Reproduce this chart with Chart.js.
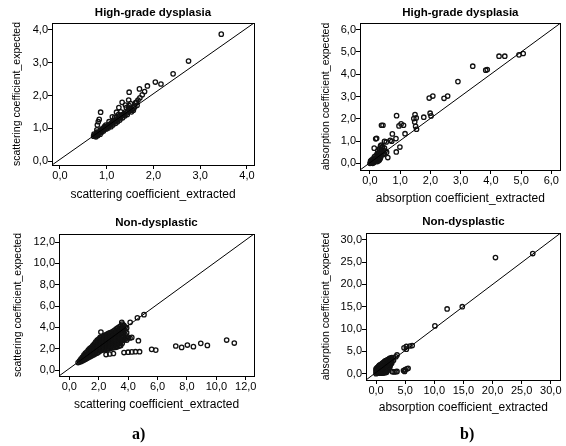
<!DOCTYPE html>
<html><head><meta charset="utf-8">
<script src="https://cdn.jsdelivr.net/npm/chart.js@4/dist/chart.umd.min.js"></script>
<style>
html,body{margin:0;padding:0;background:#fff}
body{width:566px;height:446px;position:relative;overflow:hidden}
canvas{position:absolute}
.lab{position:absolute;font-family:"Liberation Serif";font-size:16px;font-weight:bold;color:#000}
</style></head><body>
<canvas id="c1" width="283" height="220" style="left:0;top:0"></canvas>
<canvas id="c2" width="283" height="220" style="left:283px;top:0"></canvas>
<canvas id="c3" width="283" height="236" style="left:0;top:210px"></canvas>
<canvas id="c4" width="283" height="236" style="left:283px;top:210px"></canvas>
<div class="lab" style="left:132px;top:425px">a)</div>
<div class="lab" style="left:460px;top:425px">b)</div>
<script>
// ---- data (x = extracted, y = expected) ----
const hgdScatter = [
 [3.45,3.87],[2.75,3.05],[2.42,2.66],[2.16,2.35],[2.04,2.41],[1.87,2.29],[1.70,2.20],[1.48,2.10],[1.81,2.12],[1.76,2.02],
 [1.71,1.93],[1.67,1.86],[1.64,1.80],[1.47,1.86],[1.48,1.69],[1.33,1.79],[1.51,1.75],[1.40,1.71],[1.26,1.63],[1.42,1.63],
 [1.21,1.49],[1.12,1.35],[0.87,1.49],[0.84,1.27],[0.82,1.20],[0.80,1.10],[0.79,0.95],[1.05,1.20],[0.98,1.10],
 [0.72,0.76],[0.74,0.78],[0.75,0.80],[0.76,0.77],[0.78,0.82],[0.80,0.84],[0.82,0.83],[0.83,0.88],[0.85,0.87],[0.87,0.91],
 [0.88,0.95],[0.90,0.93],[0.92,0.97],[0.94,1.00],[0.95,0.96],[0.97,1.02],[1.00,1.04],[1.02,1.08],[1.04,1.06],[1.06,1.12],
 [1.08,1.10],[1.10,1.15],[1.12,1.17],[1.14,1.22],[1.16,1.19],[1.18,1.24],[1.20,1.28],[1.22,1.25],[1.25,1.30],[1.27,1.35],
 [1.29,1.32],[1.31,1.38],[1.33,1.42],[1.35,1.39],[1.38,1.45],[1.40,1.50],[1.43,1.47],[1.45,1.53],[1.48,1.56],[1.50,1.54],
 [1.52,1.60],[1.55,1.58],[1.58,1.62],[1.60,1.66],[1.62,1.78],[1.65,1.70],[1.30,1.50],[1.25,1.42],[1.17,1.33],[0.95,1.05],[0.90,0.98],
 [0.73,0.82],[0.77,0.74],[0.79,0.88],[0.81,0.78],[0.86,0.82],[0.89,0.88],[0.93,0.92],[0.99,0.98],[1.03,1.01],[1.09,1.05],
 [1.13,1.10],[1.19,1.15],[1.23,1.20],[1.28,1.25],[1.34,1.32],[1.39,1.38],[1.44,1.42],[1.53,1.50],[1.57,1.55],[1.47,1.60]
];
const hgdAbsorption = [
 [5.07,4.93],[4.93,4.87],[4.46,4.81],[4.27,4.81],[3.88,4.21],[3.83,4.18],[3.40,4.36],[2.91,3.67],[2.57,3.02],[2.45,2.92],
 [2.08,3.02],[1.96,2.93],[1.99,2.25],[2.02,2.13],[1.78,2.07],[1.49,2.19],[1.53,2.04],[1.45,2.01],[1.48,1.86],[1.51,1.66],
 [1.54,1.53],[0.88,2.14],[1.03,1.77],[1.11,1.71],[0.96,1.68],[0.43,1.71],[0.38,1.71],[1.16,1.33],[0.74,1.32],[0.67,1.03],
 [0.86,1.11],[0.99,0.73],[0.87,0.51],[0.59,0.26],[0.54,0.96],[0.48,0.99],[0.72,0.99],[0.22,1.12],[0.19,1.10],[0.14,0.68],
 [0.37,0.82],[0.31,0.15],[0.28,0.12],
 [0.00,0.00],[0.03,0.05],[0.06,0.02],[0.08,0.10],[0.10,0.05],[0.12,0.15],[0.15,0.08],[0.18,0.20],[0.20,0.12],[0.22,0.28],
 [0.25,0.18],[0.28,0.35],[0.30,0.25],[0.33,0.42],[0.36,0.30],[0.40,0.50],[0.45,0.40],[0.50,0.55],[0.55,0.50],[0.20,0.35],
 [0.15,0.30],[0.10,0.20],[0.38,0.62],[0.42,0.75],[0.35,0.78],[0.26,0.56],[0.31,0.50],
 [0.02,0.10],[0.05,0.15],[0.09,0.00],[0.13,0.04],[0.17,0.12],[0.24,0.08],[0.27,0.24],[0.34,0.22],[0.39,0.38],[0.44,0.58],
 [0.48,0.68],[0.40,0.72],[0.32,0.66],[0.24,0.44],[0.47,0.45]
];
const ndScatter = [
 [2.15,3.56],[2.10,3.06],[3.57,4.47],[4.14,4.47],[4.63,4.90],[5.08,5.19],[4.02,3.06],[4.25,3.06],[4.13,3.0],[4.70,2.75],
 [3.91,2.81],[3.46,2.65],[5.60,1.94],[5.88,1.87],[2.50,1.45],[2.75,1.50],[3.00,1.55],[3.72,1.64],[4.00,1.67],[4.25,1.70],
 [4.50,1.72],[4.78,1.72],[7.24,2.25],[7.64,2.12],[8.03,2.34],[8.44,2.19],[8.94,2.50],[9.39,2.31],[10.70,2.81],[11.22,2.53]
];
// dense core of the non-dysplastic scattering cloud, per column: [x, [y values]]
const ndScatterCore = [
 [0.6,[0.7]],[0.7,[0.75,0.85]],[0.8,[0.8,0.95,1.05]],[0.9,[0.88,1.05,1.2]],[1.0,[0.95,1.12,1.3,1.42]],
 [1.1,[1.02,1.2,1.4,1.58]],[1.2,[1.1,1.3,1.5,1.7]],[1.3,[1.17,1.37,1.57,1.77,1.9]],[1.4,[1.25,1.45,1.65,1.85,2.02]],
 [1.5,[1.32,1.52,1.72,1.92,2.12]],[1.6,[1.4,1.6,1.8,2.0,2.2,2.3]],[1.7,[1.45,1.65,1.85,2.05,2.25,2.45]],
 [1.8,[1.55,1.75,1.95,2.15,2.35,2.55,2.65]],[1.9,[1.6,1.8,2.0,2.2,2.4,2.6,2.8]],[2.0,[1.7,1.9,2.1,2.3,2.5,2.7,2.9]],
 [2.1,[1.8,2.0,2.2,2.4,2.6,2.8,3.0]],[2.2,[1.85,2.05,2.25,2.45,2.65,2.85,3.05]],[2.3,[1.9,2.1,2.3,2.5,2.7,2.9,3.1]],
 [2.4,[1.92,2.12,2.32,2.52,2.72,2.92,3.12,3.25]],[2.5,[1.95,2.15,2.35,2.55,2.75,2.95,3.15,3.3]],
 [2.6,[1.98,2.18,2.38,2.58,2.78,2.98,3.18,3.38]],[2.7,[2.0,2.2,2.4,2.6,2.8,3.0,3.2,3.45]],
 [2.8,[2.05,2.25,2.45,2.65,2.85,3.05,3.25,3.5]],[2.9,[2.08,2.28,2.5,2.7,2.9,3.1,3.3,3.55]],
 [3.0,[2.1,2.3,2.55,2.75,2.95,3.15,3.4,3.65]],[3.1,[2.12,2.35,2.6,2.8,3.0,3.25,3.5,3.75]],
 [3.2,[2.15,2.4,2.65,2.9,3.1,3.35,3.6,3.85]],[3.3,[2.2,2.45,2.7,2.95,3.2,3.45,3.7,3.95]],
 [3.4,[2.25,2.5,2.8,3.05,3.3,3.55,3.8,4.05]],[3.5,[2.3,2.6,2.9,3.15,3.4,3.65,3.9,4.15]],
 [3.6,[2.5,2.8,3.1,3.4,3.7,4.0,4.3]],[3.7,[2.8,3.1,3.5,3.9,4.2]],[3.8,[2.9,3.3,3.7,4.05]],[3.9,[3.0,3.5,3.95]]
];
const ndAbsorption = [
 [2.8,0.45],[3.1,0.40],[3.4,0.45],[3.6,0.50],[4.7,0.70],[5.0,0.90],[5.3,1.10],[5.5,1.20],[4.9,0.50],
 [3.4,3.8],[3.6,4.2],[4.8,5.8],[5.2,5.5],[5.2,6.1],[5.8,6.2],[6.2,6.3],[10.1,10.7],[12.2,14.5],[14.8,15.0],[20.5,26.0],[26.9,26.9]
];
// dense core of the non-dysplastic absorption cloud, per column: [x, [y values]]
const ndAbsorptionCore = [
 [0.0,[0.0,0.4,0.8,1.1]],[0.15,[0.2,0.6,1.0,1.3]],[0.3,[0.1,0.5,0.9,1.3,1.5]],[0.45,[0.3,0.7,1.1,1.5,1.7]],
 [0.6,[0.1,0.5,0.9,1.3,1.7,1.9]],[0.75,[0.3,0.7,1.1,1.5,1.9,2.0]],[0.9,[0.1,0.5,0.9,1.3,1.7,2.1]],
 [1.05,[0.35,0.75,1.15,1.55,1.95,2.3]],[1.2,[0.15,0.55,0.95,1.35,1.75,2.15,2.45]],[1.35,[0.4,0.8,1.2,1.6,2.0,2.4,2.6]],
 [1.5,[0.2,0.6,1.0,1.4,1.8,2.2,2.6,2.8]],[1.65,[0.5,0.9,1.3,1.7,2.1,2.5,2.9]],[1.8,[0.3,0.7,1.1,1.5,1.9,2.3,2.7,3.0]],
 [1.95,[0.7,1.1,1.5,1.9,2.3,2.7,3.1]],[2.1,[0.9,1.3,1.7,2.1,2.5,2.9,3.2]],[2.25,[1.3,1.7,2.1,2.5,2.9,3.3]],
 [2.4,[1.6,2.0,2.4,2.8,3.2,3.5]],[2.55,[2.2,2.6,3.0,3.4]],[2.7,[2.4,2.8,3.2,3.6]],[3.0,[3.0,3.6]]
];
// ---- tick values ----
const ticksHgdScatter = [0,1,2,3,4];
const ticksHgdAbsorption = [0,1,2,3,4,5,6];
const ticksNdScatter = [0,2,4,6,8,10,12];
const ticksNdAbsorption = [0,5,10,15,20,25,30];
// ---- texts ----
const titleHgd = 'High-grade dysplasia';
const titleNd = 'Non-dysplastic';
const labScatX = 'scattering coefficient_extracted';
const labScatY = 'scattering coefficient_expected';
const labAbsX = 'absorption coefficient_extracted';
const labAbsY = 'absorption coefficient_expected';

const FONT = 'Liberation Sans, Arial, sans-serif';
const fmt = v => v.toFixed(1).replace('.', ',');
const expand = cols => cols.flatMap(([x, ys]) => ys.map(y => [x, y]));

function panel(id, o) {
  const setTicks = arr => s => { s.ticks = arr.map(v => ({value: v})); };
  const axisCommon = {
    type: 'linear',
    grid: {display: true, drawOnChartArea: false, drawTicks: true, tickLength: 4, color: '#000', lineWidth: 1},
    border: {display: true, color: '#000', width: 1},
    ticks: {color: '#000', font: {family: FONT, size: 11}, padding: 0, autoSkip: false, maxRotation: 0, callback: fmt}
  };
  new Chart(document.getElementById(id), {
    type: 'scatter',
    data: {datasets: [
      {type: 'line', data: [{x: o.xr[0], y: o.yr[0]}, {x: o.xr[1], y: o.yr[1]}],
       borderColor: '#000', borderWidth: 1, pointRadius: 0, fill: false},
      {data: o.data.map(([x, y]) => ({x, y})), pointStyle: 'circle', pointRadius: 2.2,
       pointBorderWidth: 1.3, pointBorderColor: '#111', pointBackgroundColor: 'rgba(255,255,255,0)'}
    ]},
    options: {
      responsive: false, animation: false, events: [],
      layout: {padding: 0},
      plugins: {
        legend: {display: false}, tooltip: {enabled: false},
        title: {display: true, text: o.title, fullSize: false, color: '#000',
          font: {family: FONT, size: 11.5, weight: 'bold'}, padding: {top: o.tp[0], bottom: o.tp[1]}}
      },
      scales: {
        x: Object.assign({}, axisCommon, {position: 'bottom', min: o.xr[0], max: o.xr[1],
          afterBuildTicks: setTicks(o.xt), afterFit: s => { s.height = o.xh; },
          title: {display: true, text: o.xl, color: '#000', font: {family: FONT, size: 12}, padding: {top: 0, bottom: o.xtp}}}),
        y: Object.assign({}, axisCommon, {position: 'left', min: o.yr[0], max: o.yr[1],
          afterBuildTicks: setTicks(o.yt), afterFit: s => { s.width = o.yw; },
          title: {display: true, text: o.yl, color: '#000', font: {family: FONT, size: 10.5}, padding: {top: o.ytp, bottom: 0}}}),
        x2: {type: 'linear', position: 'top', display: true, ticks: {display: false}, grid: {display: false},
          border: {display: true, color: '#000', width: 1}, afterFit: s => { s.height = 0; }},
        y2: {type: 'linear', position: 'right', display: true, ticks: {display: false}, grid: {display: false},
          border: {display: true, color: '#000', width: 1}, afterFit: s => { s.width = o.y2w; }}
      }
    }
  });
}

panel('c1', {data: hgdScatter, title: titleHgd, xl: labScatX, yl: labScatY,
  xr: [-0.17, 4.15], yr: [-0.12, 4.21], xt: ticksHgdScatter, yt: ticksHgdScatter,
  tp: [6.1, 3.1], xh: 55, yw: 52, y2w: 29, xtp: 17.8, ytp: 10.7});
panel('c2', {data: hgdAbsorption, title: titleHgd, xl: labAbsX, yl: labAbsY,
  xr: [-0.33, 6.31], yr: [-0.30, 6.30], xt: ticksHgdAbsorption, yt: ticksHgdAbsorption,
  tp: [6.1, 3.1], xh: 50, yw: 77, y2w: 1, xtp: 13.8, ytp: 36.7});
panel('c3', {data: ndScatter.concat(expand(ndScatterCore)), title: titleNd, xl: labScatX, yl: labScatY,
  xr: [-0.70, 12.56], yr: [-0.56, 12.75], xt: ticksNdScatter, yt: ticksNdScatter,
  tp: [6.1, 4.1], xh: 70, yw: 59, y2w: 29, xtp: 33.8, ytp: 12});
panel('c4', {data: ndAbsorption.concat(expand(ndAbsorptionCore)), title: titleNd, xl: labAbsX, yl: labAbsY,
  xr: [-1.73, 31.7], yr: [-1.41, 31.5], xt: ticksNdAbsorption, yt: ticksNdAbsorption,
  tp: [4.8, 4.4], xh: 66, yw: 83, y2w: 1, xtp: 30.8, ytp: 36.4});
</script>
</body></html>
